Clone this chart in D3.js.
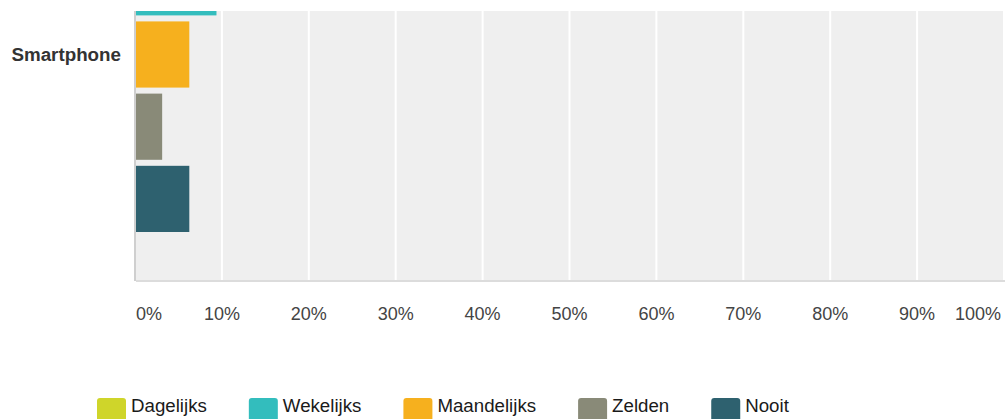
<!DOCTYPE html>
<html><head><meta charset="utf-8">
<script src="https://cdn.jsdelivr.net/npm/d3@7"></script>
<style>body{margin:0;background:#fff;overflow:hidden}svg{display:block;font-family:"Liberation Sans",Arial,sans-serif}</style>
</head><body><svg id="c" width="1005" height="419"></svg>
<script>
const categories = ["Smartphone"];
const series = ["Dagelijks", "Wekelijks", "Maandelijks", "Zelden", "Nooit"];
const colors = ["#cfd52a", "#33bdbd", "#f6b01e", "#898a78", "#2e616f"];
const values = { Smartphone: [81.25, 9.375, 6.25, 3.125, 6.25] };
const tickValues = [0, 10, 20, 30, 40, 50, 60, 70, 80, 90, 100];
const tickLabels = ["0%", "10%", "20%", "30%", "40%", "50%", "60%", "70%", "80%", "90%", "100%"];

const svg = d3.select("#c");
const plot = {left: 135, right: 1004, top: 11, bottom: 280};
const x = d3.scaleLinear().domain([0, 100]).range([plot.left, plot.right]);
const y0 = d3.scaleBand().domain(categories).range([-123, 232]);
const y1 = d3.scaleBand().domain(series).range([0, y0.bandwidth()]).paddingInner(6/72);
const color = d3.scaleOrdinal().domain(series).range(colors);

svg.append("defs").append("clipPath").attr("id","pc").append("rect")
  .attr("x", plot.left).attr("y", plot.top).attr("width", 1005 - plot.left).attr("height", plot.bottom - plot.top);

svg.append("rect").attr("x", plot.left).attr("y", plot.top).attr("width", 1005 - plot.left)
  .attr("height", plot.bottom - plot.top).attr("fill", "#efefef");

// gridlines
svg.append("g").selectAll("line").data(tickValues.slice(1)).join("line")
  .attr("x1", d => x(d)).attr("x2", d => x(d)).attr("y1", plot.top).attr("y2", plot.bottom)
  .attr("stroke", "#fff").attr("stroke-width", 2);

// bars
const g = svg.append("g").attr("clip-path", "url(#pc)");
categories.forEach(cat => {
  g.selectAll(null).data(series.map((s, i) => ({s, v: values[cat][i]}))).join("rect")
    .attr("x", x(0) + 1).attr("y", d => y0(cat) + y1(d.s))
    .attr("width", d => x(d.v) - x(0) - 1).attr("height", y1.bandwidth())
    .attr("fill", d => color(d.s));
});

// axis lines
svg.append("line").attr("x1", plot.left + 1).attr("x2", 1005).attr("y1", plot.bottom + 1).attr("y2", plot.bottom + 1)
  .attr("stroke", "#dcdcdc").attr("stroke-width", 2);
svg.append("line").attr("x1", plot.left).attr("x2", plot.left).attr("y1", plot.top).attr("y2", plot.bottom + 1)
  .attr("stroke", "#cfcfcf").attr("stroke-width", 2);

// category labels
svg.append("g").selectAll("text").data(categories).join("text")
  .attr("x", 121).attr("y", d => y0(d) + y0.bandwidth() / 2 + 6.5)
  .attr("text-anchor", "end").attr("font-weight", "bold").attr("font-size", 18.8)
  .attr("fill", "#333").text(d => d);

// x tick labels
svg.append("g").selectAll("text").data(tickValues).join("text")
  .attr("x", (d, i) => i === 0 ? x(d) + 1 : (i === tickValues.length - 1 ? x(d) - 3 : x(d)))
  .attr("y", 320)
  .attr("text-anchor", (d, i) => i === 0 ? "start" : (i === tickValues.length - 1 ? "end" : "middle"))
  .attr("font-size", 18).attr("fill", "#444")
  .text((d, i) => tickLabels[i]);

// legend
const lg = svg.append("g");
let lx = 97;
series.forEach(s => {
  const item = lg.append("g");
  item.append("rect").attr("x", lx).attr("y", 398).attr("width", 29).attr("height", 24).attr("rx", 3)
    .attr("fill", color(s));
  const t = item.append("text").attr("x", lx + 34).attr("y", 411.5).attr("font-size", 18.7)
    .attr("fill", "#1a1a1a").text(s);
  lx += 34 + t.node().getComputedTextLength() + 42;
});
</script></body></html>
